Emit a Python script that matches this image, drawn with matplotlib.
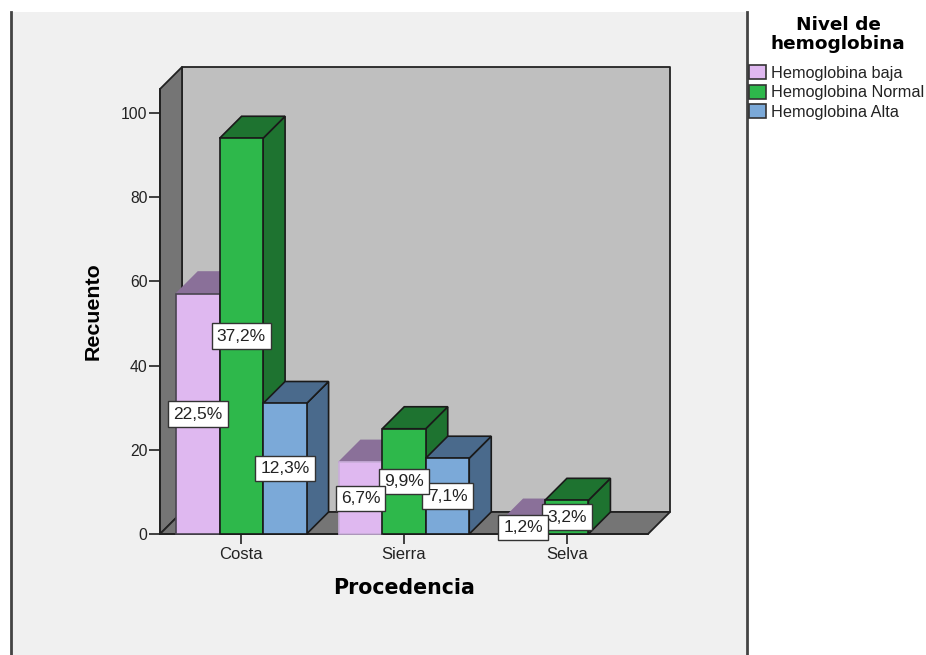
import numpy as np
import matplotlib
matplotlib.use("Agg")
import matplotlib.pyplot as plt
from matplotlib.patches import Polygon, Rectangle

plt.rcParams['font.family'] = ['Liberation Sans', 'DejaVu Sans']

regions = ["Costa", "Sierra", "Selva"]
levels = ["Hemoglobina baja", "Hemoglobina Normal", "Hemoglobina Alta"]
baja = [57, 17, 3]
normal = [94, 25, 8]
alta = [31, 18, 0]
baja_pct = ["22,5%", "6,7%", "1,2%"]
normal_pct = ["37,2%", "9,9%", "3,2%"]
alta_pct = ["12,3%", "7,1%", ""]

front_colors = ["#dfb8f0", "#2eb84b", "#7ba9d8"]
shade_colors = ["#8a7099", "#1e7330", "#4a6a8c"]
dark_edge = "#1a1a1a"
soft_edge = "#c9aeda"

W, H = 926, 655
fig = plt.figure(figsize=(W / 100, H / 100), dpi=100, facecolor="white")

# grey panel behind the plot, with the dark rules on both sides
fig.add_artist(Rectangle((12 / W, 0), 734 / W, 1 - 12 / H, transform=fig.transFigure,
                         fc="#f0f0f0", ec="none", zorder=-2))
for xp in (11, 747):
    fig.add_artist(plt.Line2D([xp / W, xp / W], [0, 1 - 12 / H], transform=fig.transFigure,
                              color="#444444", lw=2, zorder=-1))

ax = fig.add_axes([160 / W, 1 - 534 / H, 488 / W, 445 / H])
ax.set_xlim(-0.5, 2.5)
ax.set_ylim(0, 445 / 4.21)
ax.patch.set_visible(False)
for s in ("top", "right"):
    ax.spines[s].set_visible(False)
for s in ("left", "bottom"):
    ax.spines[s].set_color("#222222")
    ax.spines[s].set_linewidth(1.3)
    ax.spines[s].set_zorder(1.5)

dx = 22 / (488 / 3)
dy = 22 / 4.21
x0, x1 = ax.get_xlim()
y0, y1 = ax.get_ylim()
line = dict(ec="#222222", lw=1.3, clip_on=False, joinstyle="round")

# box walls and floor
ax.add_patch(Polygon([(x0 + dx, y0 + dy), (x1 + dx, y0 + dy), (x1 + dx, y1 + dy), (x0 + dx, y1 + dy)],
                     fc="#bfbfbf", zorder=1, **line))
ax.add_patch(Polygon([(x0, y0), (x0 + dx, y0 + dy), (x0 + dx, y1 + dy), (x0, y1)],
                     fc="#757575", zorder=1, **line))
ax.add_patch(Polygon([(x0, y0), (x1, y0), (x1 + dx, y0 + dy), (x0 + dx, y0 + dy)],
                     fc="#757575", zorder=1, **line))

bar_w = 43.5 / (488 / 3)
series = [baja, normal, alta]
labels = [baja_pct, normal_pct, alta_pct]

z = 2.0
for i in range(len(regions)):
    for k in range(3):
        v = series[k][i]
        if v == 0:
            continue
        xl = i + (k - 1.5) * bar_w
        xr = xl + bar_w
        # only the tall Costa bar of the first series shows a dark outline
        ec = soft_edge if k == 0 and i > 0 else dark_edge
        if k == 0 and i == 0:
            ec = "#4a4550"
        edge = dict(ec=ec, lw=1.2, clip_on=False)
        ax.add_patch(Polygon([(xr, 0), (xr + dx, dy), (xr + dx, v + dy), (xr, v)],
                             fc=shade_colors[k], zorder=z, **edge))
        top_ec = shade_colors[k] if k == 0 else ec
        ax.add_patch(Polygon([(xl, v), (xr, v), (xr + dx, v + dy), (xl + dx, v + dy)],
                             fc=shade_colors[k], zorder=z, ec=top_ec, lw=1.2, clip_on=False))
        ax.add_patch(Rectangle((xl, 0), bar_w, v, fc=front_colors[k], zorder=z + 0.1, **edge))
        z += 0.2
        # earlier series keep their label on top
        ax.text(xl + bar_w / 2, v / 2, labels[k][i], ha="center", va="center",
                fontsize=12.5, color="#222222", zorder=12 - k, clip_on=False,
                bbox=dict(boxstyle="square,pad=0.3", fc="white", ec="#333333", lw=1))

ax.set_xticks(range(len(regions)), regions)
ax.set_yticks([0, 20, 40, 60, 80, 100])
ax.tick_params(axis="both", width=1.2, color="#222222", labelcolor="#222222")
ax.tick_params(axis="y", length=8, labelsize=11.3, pad=1)
ax.tick_params(axis="x", length=7, labelsize=12, pad=2.5)

ax.set_xlabel("Procedencia", fontsize=14.8, fontweight="bold", family="DejaVu Sans", labelpad=11.5)
ax.set_ylabel("Recuento", fontsize=15.4, fontweight="bold", labelpad=13)

# legend heading sits well above the entries, so it is placed on its own
fig.text(838 / W, 1 - 34.5 / H, "Nivel de\nhemoglobina", ha="center", va="center", multialignment="center",
         family="DejaVu Sans", fontweight="bold", fontsize=13.3, linespacing=1.05)
handles = [Rectangle((0, 0), 1, 1, fc=c, ec="#333333", lw=1.2) for c in front_colors]
leg = fig.legend(handles, levels, loc="upper left", bbox_to_anchor=(749 / W, 1 - 65 / H),
                 frameon=False, fontsize=11.7,
                 handlelength=1.05, handleheight=0.95, handletextpad=0.3,
                 labelspacing=0.25, borderpad=0, borderaxespad=0)
for t in leg.get_texts():
    t.set_color("#222222")

fig.savefig("out.png", dpi=100)
